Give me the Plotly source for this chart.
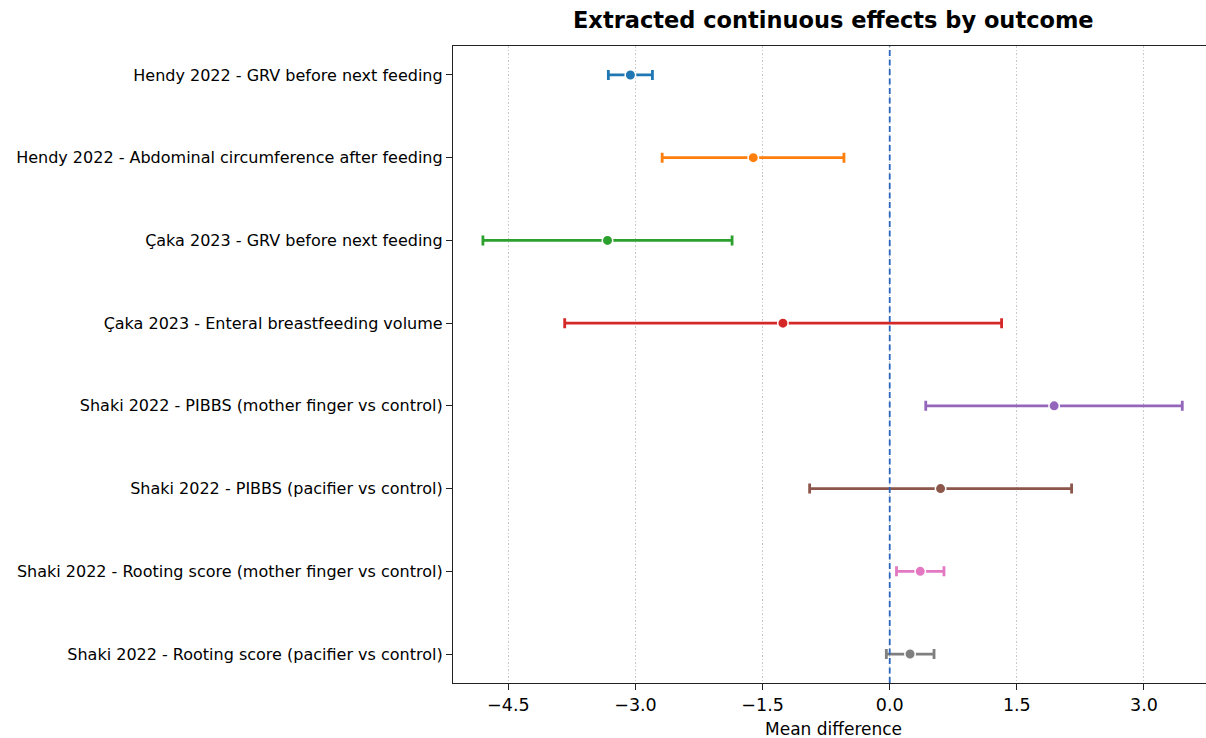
import plotly.graph_objects as go

labels = [
    "Hendy 2022 - GRV before next feeding",
    "Hendy 2022 - Abdominal circumference after feeding",
    "Çaka 2023 - GRV before next feeding",
    "Çaka 2023 - Enteral breastfeeding volume",
    "Shaki 2022 - PIBBS (mother finger vs control)",
    "Shaki 2022 - PIBBS (pacifier vs control)",
    "Shaki 2022 - Rooting score (mother finger vs control)",
    "Shaki 2022 - Rooting score (pacifier vs control)",
]
mean_diff = [-3.06, -1.61, -3.33, -1.26, 1.94, 0.60, 0.36, 0.24]
ci_low = [-3.32, -2.685, -4.80, -3.835, 0.425, -0.945, 0.08, -0.04]
ci_high = [-2.80, -0.54, -1.86, 1.32, 3.452, 2.146, 0.64, 0.523]
colors = ["#1f77b4", "#ff7f0e", "#2ca02c", "#d62728",
          "#9467bd", "#8c564b", "#e377c2", "#7f7f7f"]
xticks = [-4.5, -3.0, -1.5, 0.0, 1.5, 3.0]
xtick_text = ["\u22124.5", "\u22123.0", "\u22121.5", "0.0", "1.5", "3.0"]

FONT = "DejaVu Sans"
W, H = 1206, 738
ML, MR, MT, MB = 453, 0, 46, 55
PXU = 84.75                      # pixels per data unit
X0 = -5.153
X1 = X0 + (W - ML - MR) / PXU

fig = go.Figure()
for i, lab in enumerate(labels):
    fig.add_trace(go.Scatter(
        x=[mean_diff[i]], y=[i], mode="markers",
        marker=dict(color=colors[i], size=10.5, line=dict(color="white", width=1.5)),
        error_x=dict(type="data", symmetric=False,
                     array=[ci_high[i] - mean_diff[i]],
                     arrayminus=[mean_diff[i] - ci_low[i]],
                     color=colors[i], thickness=2.8, width=5),
        showlegend=False, name=lab, hoverinfo="skip",
    ))

fig.add_shape(type="line", xref="x", yref="paper", x0=0, x1=0, y0=0, y1=1,
              line=dict(color="#2a66c0", width=1.8, dash="6px,3.5px"), layer="above")

# the reference axes continue past the right edge: centre titles on the full axes
cx = (833 - ML) / (W - ML - MR)
fig.add_annotation(text="<b>Extracted continuous effects by outcome</b>",
                   xref="paper", yref="paper", x=cx, y=1, yshift=26,
                   showarrow=False, font=dict(family=FONT, size=22.5, color="black"),
                   xanchor="center", yanchor="middle")
fig.add_annotation(text="Mean difference", xref="paper", yref="paper",
                   x=cx, y=0, yshift=-46, showarrow=False,
                   font=dict(family=FONT, size=17, color="black"),
                   xanchor="center", yanchor="middle")

fig.update_layout(
    width=W, height=H,
    margin=dict(l=ML, r=MR, t=MT, b=MB),
    paper_bgcolor="white", plot_bgcolor="white",
    font=dict(family=FONT, size=16, color="black"),
    xaxis=dict(range=[X0, X1], tickvals=xticks, ticktext=xtick_text,
               showgrid=True, gridcolor="#c8c8c8", griddash="1.5px,2px", gridwidth=1,
               zeroline=False, showline=True, linecolor="#222222", linewidth=1.3,
               mirror=True, ticks="outside", ticklen=6, tickwidth=1.2,
               tickcolor="#222222", tickfont=dict(family=FONT, size=17.5)),
    yaxis=dict(range=[7.35, -0.35], tickvals=list(range(len(labels))), ticktext=labels,
               showgrid=False, zeroline=False, showline=True, linecolor="#222222",
               linewidth=1.3, mirror=False, ticks="outside", ticklen=6, tickwidth=1.2,
               tickcolor="#222222", tickfont=dict(family=FONT, size=16)),
)

fig.write_html("out.html",
               config={"displayModeBar": False},
               post_script="document.body.style.margin='0';document.body.style.overflow='hidden';")
